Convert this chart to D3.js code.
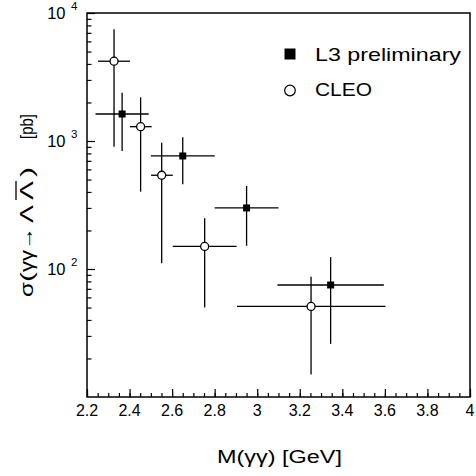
<!DOCTYPE html>
<html>
<head>
<meta charset="utf-8">
<script src="https://cdn.jsdelivr.net/npm/d3@7"></script>
<style>
body { margin: 0; background: #fff; }
svg text { font-family: "Liberation Sans", Arial, sans-serif; fill: #000; }
</style>
</head>
<body>
<svg width="476" height="476"></svg>
<script>
// L3 preliminary: bin centre, bin edges, cross section and error range [pb]
var l3Mass = [2.365, 2.65, 2.95, 3.345];
var l3MassLo = [2.24, 2.50, 2.80, 3.095];
var l3MassHi = [2.49, 2.80, 3.10, 3.595];
var l3Sigma = [1625, 764, 300, 75];
var l3SigmaLo = [835, 459, 152, 26];
var l3SigmaHi = [2385, 1069, 445, 124];

// CLEO
var cleoMass = [2.327, 2.452, 2.551, 2.753, 3.253];
var cleoMassLo = [2.252, 2.402, 2.501, 2.603, 2.905];
var cleoMassHi = [2.402, 2.504, 2.603, 2.903, 3.603];
var cleoSigma = [4200, 1294, 540, 150, 51];
var cleoSigmaLo = [902, 402, 111, 50, 15];
var cleoSigmaHi = [7460, 2195, 970, 249, 87];

var xTicks = [2.2, 2.4, 2.6, 2.8, 3.0, 3.2, 3.4, 3.6, 3.8, 4.0];
var xTickLabels = ["2.2", "2.4", "2.6", "2.8", "3", "3.2", "3.4", "3.6", "3.8", "4"];
var yTicks = [100, 1000, 10000];
var yTickExps = ["2", "3", "4"];

var svg = d3.select("svg");
var plotL = 87, plotR = 470, plotT = 13, plotB = 397;

var x = d3.scaleLinear().domain([2.2, 4]).range([plotL, plotR]);
var y = d3.scaleLog().domain([10, 10000]).range([plotB, plotT]);

function rows(m, lo, hi, s, slo, shi) {
    return m.map(function(v, i) {
        return { m: v, mlo: lo[i], mhi: hi[i], s: s[i], slo: slo[i], shi: shi[i] };
    });
}
var l3 = rows(l3Mass, l3MassLo, l3MassHi, l3Sigma, l3SigmaLo, l3SigmaHi);
var cleo = rows(cleoMass, cleoMassLo, cleoMassHi, cleoSigma, cleoSigmaLo, cleoSigmaHi);

// minor ticks
var xMinor = d3.range(0, 37).map(function(i) { return 2.2 + i * 0.05; });
var yMinor = [];
[10, 100, 1000].forEach(function(dec) {
    for (var k = 2; k <= 9; k++) yMinor.push(dec * k);
});

var axisStyle = function(g) {
    g.select(".domain").remove();
    g.selectAll("line").attr("stroke", "#000").attr("stroke-width", 1.2);
};

svg.append("g").attr("transform", "translate(0," + plotB + ")")
    .call(d3.axisBottom(x).tickValues(xMinor).tickSizeInner(-4).tickSizeOuter(0).tickFormat(""))
    .call(axisStyle);
svg.append("g").attr("transform", "translate(0," + plotB + ")")
    .call(d3.axisBottom(x).tickValues(xTicks).tickSizeInner(-8).tickSizeOuter(0).tickFormat(""))
    .call(axisStyle);
svg.append("g").attr("transform", "translate(" + plotL + ",0)")
    .call(d3.axisLeft(y).tickValues(yMinor).tickSizeInner(-4.5).tickSizeOuter(0).tickFormat(""))
    .call(axisStyle);
svg.append("g").attr("transform", "translate(" + plotL + ",0)")
    .call(d3.axisLeft(y).tickValues(yTicks).tickSizeInner(-8).tickSizeOuter(0).tickFormat(""))
    .call(axisStyle);

svg.append("rect")
    .attr("x", plotL).attr("y", plotT)
    .attr("width", plotR - plotL).attr("height", plotB - plotT)
    .attr("fill", "none").attr("stroke", "#000").attr("stroke-width", 1.5);

// x tick labels
svg.append("g").selectAll("text")
    .data(xTicks)
    .enter().append("text")
    .attr("x", function(d) { return x(d); })
    .attr("y", plotB + 19)
    .attr("text-anchor", "middle")
    .style("font-size", "16px")
    .text(function(d, i) { return xTickLabels[i]; });

// y tick labels 10^n
var ylab = svg.append("g").selectAll("g")
    .data(yTicks)
    .enter().append("g")
    .attr("transform", function(d) { return "translate(0," + y(d) + ")"; });
ylab.append("text")
    .attr("x", 65.5).attr("y", 6)
    .attr("text-anchor", "end")
    .style("font-size", "16.5px")
    .text("10");
ylab.append("text")
    .attr("x", 71).attr("y", -3)
    .style("font-size", "11.5px")
    .text(function(d, i) { return yTickExps[i]; });

// axis titles
svg.append("text")
    .attr("x", 217).attr("y", 463)
    .attr("textLength", 125).attr("lengthAdjust", "spacingAndGlyphs")
    .style("font-size", "17.5px")
    .text("M(\u03b3\u03b3)  [GeV]");

var ytitle = svg.append("g").attr("transform", "translate(33,0) rotate(-90)");
var ytParts = [
    { t: "\u03c3", a: 282, b: 297 },
    { t: "(", a: 272, b: 282 },
    { t: "\u03b3\u03b3", a: 250, b: 272 },
    { t: "\u2192", a: 227, b: 250 },
    { t: "\u039b", a: 205, b: 223 },
    { t: "\u039b", a: 181, b: 200, bar: true },
    { t: ")", a: 167, b: 177 },
    { t: "[pb]", a: 114, b: 139 }
];
ytitle.selectAll("text")
    .data(ytParts)
    .enter().append("text")
    .attr("x", function(d) { return -d.b; })
    .attr("y", 0)
    .attr("textLength", function(d) { return d.b - d.a; })
    .attr("lengthAdjust", "spacingAndGlyphs")
    .style("font-size", "19px")
    .text(function(d) { return d.t; });
ytitle.selectAll("line")
    .data(ytParts.filter(function(d) { return d.bar; }))
    .enter().append("line")
    .attr("x1", function(d) { return -d.b; })
    .attr("x2", function(d) { return -d.a; })
    .attr("y1", -17).attr("y2", -17)
    .attr("stroke", "#000").attr("stroke-width", 1.3);

// error bars
function errorBars(data) {
    var g = svg.append("g").attr("stroke", "#000").attr("stroke-width", 1.3);
    g.selectAll("line.h")
        .data(data)
        .enter().append("line").attr("class", "h")
        .attr("x1", function(d) { return x(d.mlo); })
        .attr("x2", function(d) { return x(d.mhi); })
        .attr("y1", function(d) { return y(d.s); })
        .attr("y2", function(d) { return y(d.s); });
    g.selectAll("line.v")
        .data(data)
        .enter().append("line").attr("class", "v")
        .attr("x1", function(d) { return x(d.m); })
        .attr("x2", function(d) { return x(d.m); })
        .attr("y1", function(d) { return y(d.slo); })
        .attr("y2", function(d) { return y(d.shi); });
}
errorBars(cleo);
errorBars(l3);

svg.append("g").selectAll("circle")
    .data(cleo)
    .enter().append("circle")
    .attr("cx", function(d) { return x(d.m); })
    .attr("cy", function(d) { return y(d.s); })
    .attr("r", 4)
    .attr("fill", "#fff").attr("stroke", "#000").attr("stroke-width", 1.3);

svg.append("g").selectAll("rect")
    .data(l3)
    .enter().append("rect")
    .attr("x", function(d) { return x(d.m) - 3.5; })
    .attr("y", function(d) { return y(d.s) - 3.5; })
    .attr("width", 7).attr("height", 7)
    .attr("fill", "#000");

// legend
svg.append("rect")
    .attr("x", 284.5).attr("y", 48.5).attr("width", 11).attr("height", 11)
    .attr("fill", "#000");
svg.append("text")
    .attr("x", 315).attr("y", 60.5)
    .attr("textLength", 146).attr("lengthAdjust", "spacingAndGlyphs")
    .style("font-size", "19px")
    .text("L3 preliminary");
svg.append("circle")
    .attr("cx", 290).attr("cy", 90.5).attr("r", 5.3)
    .attr("fill", "#fff").attr("stroke", "#000").attr("stroke-width", 1.2);
svg.append("text")
    .attr("x", 315).attr("y", 96)
    .attr("textLength", 57).attr("lengthAdjust", "spacingAndGlyphs")
    .style("font-size", "19px")
    .text("CLEO");
</script>
</body>
</html>
